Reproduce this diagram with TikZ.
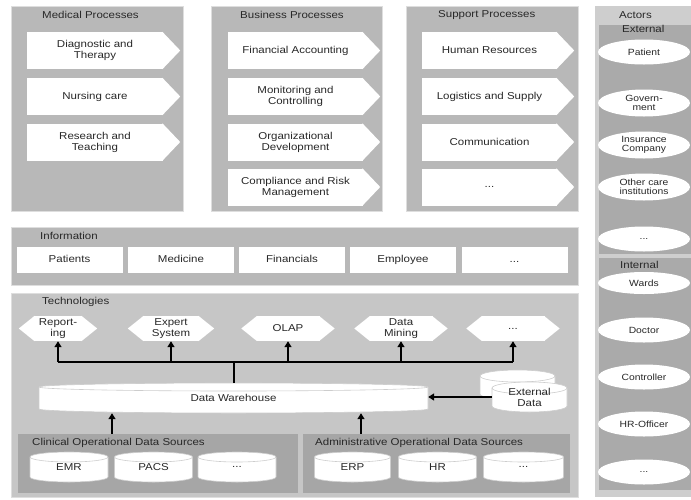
\documentclass[tikz,border=0pt]{standalone}
\usepackage{fontspec}
\setmainfont{Liberation Sans}[FakeStretch=1.15]
\usetikzlibrary{shapes.geometric,arrows.meta}
\definecolor{panelgray}{RGB}{184,184,184}
\definecolor{techgray}{RGB}{198,198,198}
\definecolor{srcgray}{RGB}{166,166,166}
\definecolor{actgray}{RGB}{206,206,206}
\definecolor{actin}{RGB}{170,170,170}
\definecolor{edgegray}{RGB}{222,222,222}
\definecolor{cyledge}{RGB}{205,205,205}
\definecolor{txt}{RGB}{40,40,40}
% process arrow: name, centre x, centre y, body width, text
\newcommand\procbox[5]{%
  \node[procbody, minimum width=#4] (#1) at (#2,#3) {#5};
  \fill[white] ([xshift=-0.8pt]#1.north east) -- ([xshift=17pt]#1.east) -- ([xshift=-0.8pt]#1.south east) -- cycle;}
% hexagon: name, centre x, centre y, flat width, text
\newcommand\hexbox[5]{%
  \node[hexbody, minimum width=#4] (#1) at (#2,#3) {#5};
  \fill[white] ([xshift=-0.8pt]#1.north east) -- ([xshift=15pt]#1.east) -- ([xshift=-0.8pt]#1.south east) -- cycle;
  \fill[white] ([xshift=0.8pt]#1.north west) -- ([xshift=-15pt]#1.west) -- ([xshift=0.8pt]#1.south west) -- cycle;}
% cylinder: name, centre x, centre y, half width, end radius, text
\newcommand\dbcyl[6]{%
  \filldraw[fill=white, draw=cyledge, line width=0.6pt]
    ({#2-#4},{#3-15+#5}) -- ({#2-#4},{#3+15-#5})
    arc[start angle=180, end angle=360, x radius=#4pt, y radius=#5pt]
    -- ({#2+#4},{#3-15+#5})
    arc[start angle=0, end angle=180, x radius=#4pt, y radius=#5pt] -- cycle;
  \draw[cyledge, line width=0.6pt] ({#2-#4},{#3-15+#5})
    arc[start angle=180, end angle=360, x radius=#4pt, y radius=#5pt];
  \node[cylbody, minimum width={2*#4}] (#1) at (#2,#3) {#6};}
\begin{document}
\begin{tikzpicture}[x=1pt,y=-1pt,
  every node/.style={font=\fontsize{10}{11}\selectfont, text=txt},
  panel/.style={fill=panelgray, draw=edgegray, line width=1pt, inner sep=0},
  title/.style={anchor=west, inner sep=0},
  procbody/.style={fill=white, minimum height=37, inner sep=0, align=center},
  infobox/.style={fill=white, minimum width=106, minimum height=26, inner sep=0, text height=7.5pt, text depth=2pt},
  hexbody/.style={fill=white, minimum height=25, inner sep=0, align=center},
  actor/.style={ellipse, fill=white, minimum width=92, minimum height=25, inner sep=0, align=center, font=\fontsize{9}{9.5}\selectfont},
  cylbody/.style={minimum height=30, inner sep=0, align=center},
  conn/.style={line width=2pt, draw=black},
  arr/.style={conn, -{Triangle[length=6pt,width=7pt]}},
]
\useasboundingbox (0,0) rectangle (691,499);
\fill[white] (0,0) rectangle (691,499);

% ---------- process panels ----------
\node[panel, minimum width=172, minimum height=205] (medp) at (97,108.5) {};
\node[panel, minimum width=171, minimum height=205] (busp) at (296.5,108.5) {};
\node[panel, minimum width=172, minimum height=205] (supp) at (492,108.5) {};
\node[title] (medt) at (42,15) {Medical Processes};
\node[title] (bust) at (240,15) {Business Processes};
\node[title] (supt) at (438,15) {Support Processes};

\procbox{m1}{95}{50.5}{136}{Diagnostic and\\Therapy}
\procbox{m2}{95}{96.5}{136}{Nursing care}
\procbox{m3}{95}{142}{136}{Research and\\Teaching}

\procbox{b1}{295.5}{50.5}{135}{Financial Accounting}
\procbox{b2}{295.5}{96.5}{135}{Monitoring and\\Controlling}
\procbox{b3}{295.5}{142}{135}{Organizational\\Development}
\procbox{b4}{295.5}{187}{135}{Compliance and Risk\\Management}

\procbox{s1}{489.5}{50.5}{135}{Human Resources}
\procbox{s2}{489.5}{96.5}{135}{Logistics and Supply}
\procbox{s3}{489.5}{142}{135}{Communication}
\procbox{s4}{489.5}{187}{135}{...}

% ---------- actors ----------
\node[fill=actgray, minimum width=96, minimum height=491, inner sep=0] (actp) at (643,251.5) {};
\node[fill=actin, minimum width=92, minimum height=229, inner sep=0] (extp) at (645,139.5) {};
\node[fill=actin, minimum width=92, minimum height=232, inner sep=0] (intp) at (645,374) {};
\node[title] (actt) at (619,15) {Actors};
\node[title] (extt) at (622,29) {External};
\node[title] (intt) at (620,265) {Internal};

\node[actor] (a1) at (644,52) {Patient};
\node[actor, minimum height=27] (a2) at (644,103) {Govern-\\ment};
\node[actor, minimum height=27] (a3) at (644,145) {Insurance\\Company};
\node[actor, minimum height=27] (a4) at (644,187) {Other care\\institutions};
\node[actor] (a5) at (644,239) {...};
\node[actor, minimum height=22] (i1) at (644,283) {Wards};
\node[actor] (i2) at (644,330) {Doctor};
\node[actor] (i3) at (644,377) {Controller};
\node[actor] (i4) at (644,424) {HR-Officer};
\node[actor] (i5) at (644,472) {...};

% ---------- information ----------
\node[panel, minimum width=567, minimum height=58] (infp) at (294.5,256) {};
\node[title] (inft) at (40,236) {Information};
\node[infobox] (n1) at (69.5,260) {Patients};
\node[infobox] (n2) at (181,260) {Medicine};
\node[infobox] (n3) at (292,260) {Financials};
\node[infobox] (n4) at (403,260) {Employee};
\node[infobox] (n5) at (514.5,260) {...};

% ---------- technologies ----------
\node[panel, fill=techgray, minimum width=567, minimum height=204] (tecp) at (294.5,395) {};
\node[title] (tect) at (42,302) {Technologies};

\hexbox{h1}{58}{328.5}{48}{Report-\\ing}
\hexbox{h2}{171}{328.5}{56}{Expert\\System}
\hexbox{h3}{288}{328.5}{63}{OLAP}
\hexbox{h4}{401}{328.5}{63}{Data\\Mining}
\hexbox{h5}{513}{328.5}{63}{...}

\dbcyl{dw}{233.5}{398}{194.5}{4}{Data Warehouse}
\dbcyl{ex2}{517.5}{385}{37.5}{6}{}
\dbcyl{ex1}{529.5}{397}{37.5}{6}{\\[-2pt]External\\Data}

\node[panel, fill=srcgray, draw=none, minimum width=280, minimum height=59] (clin) at (158,463.5) {};
\node[panel, fill=srcgray, draw=none, minimum width=267, minimum height=59] (admp) at (436.5,463.5) {};
\node[title] (clint) at (32,443) {Clinical Operational Data Sources};
\node[title] (admt) at (315,443) {Administrative Operational Data Sources};

\dbcyl{d1}{69}{467}{39}{5}{EMR}
\dbcyl{d2}{153.5}{467}{39}{5}{PACS}
\dbcyl{d3}{237}{467}{39}{5}{...}
\dbcyl{d4}{352.5}{467}{38}{5}{ERP}
\dbcyl{d5}{437.5}{467}{39}{5}{HR}
\dbcyl{d6}{523.5}{467}{40}{5}{...}

% ---------- connectors ----------
\coordinate (bus) at (233.5,362);
\draw[conn] (h1.south |- bus) -- (h5.south |- bus);
\draw[conn] (dw.north) -- (bus);
\foreach \h in {h1,h2,h3,h4,h5}
  \draw[arr] (\h.south |- bus) -- (\h.south);
\draw[arr] (ex1.west) -- (dw.east |- ex1.west);
\draw[arr] (112,0 |- clin.north) -- (112,0 |- dw.south);
\draw[arr] (361,0 |- admp.north) -- (361,0 |- dw.south);
\end{tikzpicture}
\end{document}
